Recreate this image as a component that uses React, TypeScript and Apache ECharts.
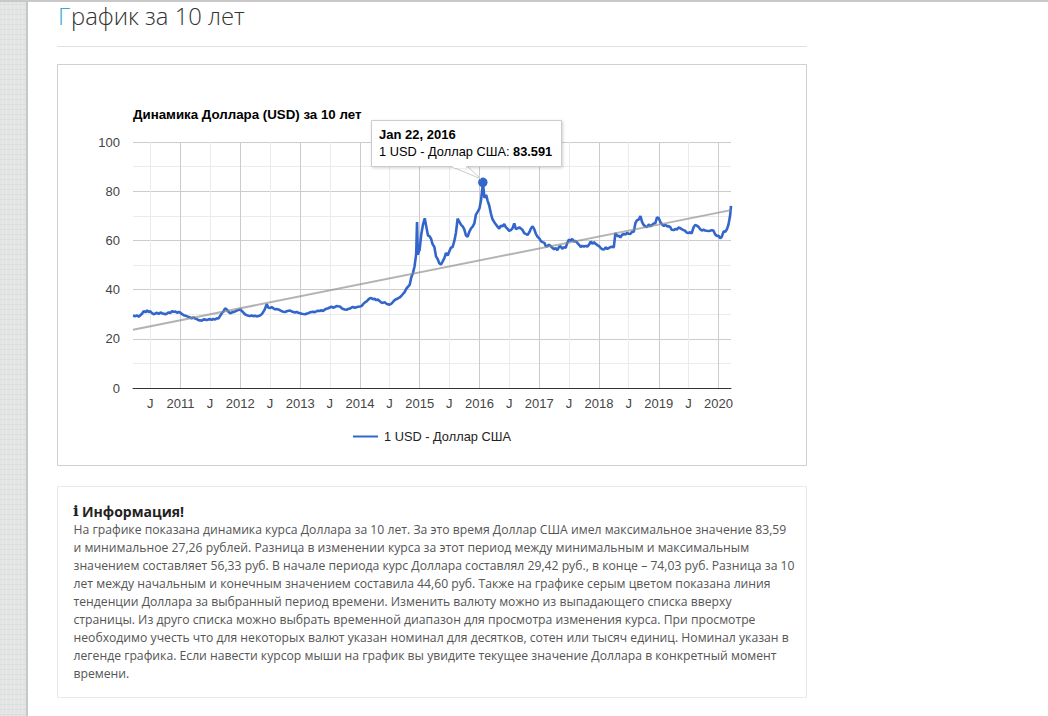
import React, { useEffect, useRef } from "react";
import * as echarts from "echarts";

const seriesName = "1 USD - Доллар США";
const chartTitle = "Динамика Доллара (USD) за 10 лет";
const pageTitleFirst = "Г";
const pageTitleRest = "рафик за 10 лет";
const infoTitle = "Информация!";
const infoLines = [
  "На графике показана динамика курса Доллара за 10 лет. За это время Доллар США имел максимальное значение 83,59",
  "и минимальное 27,26 рублей. Разница в изменении курса за этот период между минимальным и максимальным",
  "значением составляет 56,33 руб. В начале периода курс Доллара составлял 29,42 руб., в конце – 74,03 руб. Разница за 10",
  "лет между начальным и конечным значением составила 44,60 руб. Также на графике серым цветом показана линия",
  "тенденции Доллара за выбранный период времени. Изменить валюту можно из выпадающего списка вверху",
  "страницы. Из друго списка можно выбрать временной диапазон для просмотра изменения курса. При просмотре",
  "необходимо учесть что для некоторых валют указан номинал для десятков, сотен или тысяч единиц. Номинал указан в",
  "легенде графика. Если навести курсор мыши на график вы увидите текущее значение Доллара в конкретный момент",
  "времени.",
];

const axisYears = [2011, 2012, 2013, 2014, 2015, 2016, 2017, 2018, 2019, 2020];
const midYears = [2010, 2011, 2012, 2013, 2014, 2015, 2016, 2017, 2018, 2019];

// Readings on the 1st, 11th and 21st of each month
const values2010 = [29.4, 29.2, 29.5, 29.0, 29.6, 30.2, 31.2, 30.8, 31.5, 30.9, 31.2, 30.4, 30.0, 30.3, 30.6, 30.1, 30.7, 30.4, 30.2, 30.0, 30.3, 30.7, 30.5, 31.2, 31.0, 31.1, 30.6, 30.9];
const values2011 = [30.6, 30.0, 29.6, 29.4, 29.1, 28.9, 28.7, 28.3, 28.7, 28.2, 28.0, 27.6, 27.5, 27.3, 27.9, 27.8, 27.6, 27.9, 28.0, 27.7, 28.1, 27.8, 28.4, 28.2, 29.4, 30.4, 31.2, 32.4, 31.9, 31.0, 30.4, 30.7, 30.9, 31.1, 31.5, 31.7];
const values2012 = [31.9, 31.3, 30.6, 29.9, 29.6, 29.4, 29.3, 29.5, 29.2, 29.4, 29.1, 29.3, 29.5, 30.0, 30.9, 32.3, 34.1, 32.6, 32.5, 32.9, 32.4, 32.0, 32.1, 31.9, 31.6, 31.2, 31.0, 30.9, 31.2, 31.4, 31.5, 31.1, 30.9, 30.7, 30.9, 30.6];
const values2013 = [30.4, 30.2, 30.1, 30.0, 30.3, 30.4, 30.7, 30.9, 31.0, 30.8, 31.2, 31.4, 31.3, 31.6, 31.3, 31.9, 32.2, 32.4, 32.7, 33.1, 32.6, 32.9, 33.3, 33.2, 33.1, 32.5, 32.1, 31.9, 31.8, 32.1, 32.3, 32.7, 33.0, 32.6, 32.8, 33.0];
const values2014 = [33.1, 33.3, 34.1, 34.8, 35.2, 35.9, 36.4, 36.6, 36.1, 36.3, 35.7, 36.0, 35.4, 34.8, 34.6, 34.9, 34.3, 34.0, 33.9, 34.2, 34.9, 35.7, 36.1, 36.4, 36.8, 37.4, 38.2, 39.0, 40.3, 41.1, 41.9, 45.0, 46.7, 49.5, 54.5, 54.2];
const values2015 = [56.3, 62.5, 66.3, 69.0, 65.5, 62.0, 61.8, 60.8, 58.5, 57.3, 53.5, 52.4, 50.7, 50.2, 51.4, 52.8, 54.9, 53.9, 55.5, 57.0, 57.3, 59.8, 63.2, 68.8, 67.5, 66.3, 65.7, 64.5, 62.0, 61.5, 63.6, 64.9, 65.6, 66.9, 70.5, 71.6];
const values2016 = [72.9, 76.3, 82.5, 77.3, 78.5, 76.0, 74.2, 71.0, 68.6, 67.4, 66.5, 65.6, 64.8, 66.0, 65.7, 66.6, 65.3, 64.7, 63.9, 64.2, 64.9, 66.9, 64.6, 64.9, 65.3, 64.8, 64.2, 63.0, 62.6, 62.2, 63.3, 64.8, 65.7, 64.6, 62.7, 61.5];
const values2017 = [60.8, 59.7, 59.3, 59.0, 57.5, 57.8, 58.2, 57.8, 57.0, 56.4, 56.9, 56.0, 57.3, 57.6, 56.6, 57.2, 57.0, 59.0, 60.3, 59.8, 60.6, 59.6, 59.8, 59.0, 58.2, 57.3, 57.8, 57.5, 57.8, 57.5, 58.3, 59.5, 58.6, 59.3, 58.6, 58.1];
const values2018 = [57.7, 56.9, 56.4, 56.3, 57.2, 56.5, 56.9, 57.3, 57.4, 57.2, 63.0, 61.8, 61.9, 61.2, 62.2, 62.6, 62.4, 63.0, 62.7, 62.6, 63.4, 63.5, 67.0, 68.2, 68.5, 69.9, 67.4, 66.2, 65.7, 65.4, 66.5, 65.7, 66.3, 66.9, 67.0, 69.4];
const values2019 = [69.0, 67.4, 66.5, 65.9, 66.3, 65.7, 65.8, 65.5, 64.3, 64.2, 64.6, 64.4, 65.2, 65.0, 64.6, 64.2, 63.9, 63.1, 63.0, 63.3, 62.9, 65.3, 66.3, 66.0, 65.5, 64.5, 64.0, 64.4, 64.0, 63.9, 63.8, 63.9, 64.2, 63.9, 62.5, 61.8];
const values2020 = [61.9, 60.9, 61.5, 63.7, 63.5, 64.5, 66.3, 69.8];

const spikeDates = ["2010-03-17", "2014-12-16", "2016-01-22", "2020-03-17"];
const spikeValues = [29.42, 67.5, 83.591, 74.03];
const trendDates = ["2010-03-17", "2020-03-17"];
const trendValues = [23.7, 72.3];
const peakDate = "2016-01-22";
const peakValue = 83.591;

const utc = (s: string) => Date.parse(s + "T00:00:00Z");

function buildSeries(): [number, number][] {
  const all = [
    ...values2010, ...values2011, ...values2012, ...values2013, ...values2014, ...values2015,
    ...values2016, ...values2017, ...values2018, ...values2019, ...values2020,
  ];
  const days = [1, 11, 21];
  const out: [number, number][] = [];
  // first reading is 21 March 2010: slot index 2 of month index 2
  let slot = 2 * 3 + 2;
  for (const v of all) {
    const month = Math.floor(slot / 3);
    out.push([Date.UTC(2010, month, days[slot % 3]), v]);
    slot++;
  }
  spikeDates.forEach((d, i) => out.push([utc(d), spikeValues[i]]));
  return out.sort((a, b) => a[0] - b[0]);
}

const sans = "'Liberation Sans', Arial, sans-serif";
const open = "'Open Sans', sans-serif";

function stripTexture() {
  const items: any[] = [];
  for (let x = 2; x < 26; x += 4) {
    items.push({ type: "line", z: -9, silent: true, shape: { x1: x + 0.5, y1: 2, x2: x + 0.5, y2: 716 }, style: { stroke: "rgba(255,255,255,0.2)", lineWidth: 1 } });
  }
  for (let y = 4; y < 716; y += 5) {
    items.push({ type: "line", z: -9, silent: true, shape: { x1: 0, y1: y + 0.5, x2: 26, y2: y + 0.5 }, style: { stroke: "rgba(150,155,152,0.10)", lineWidth: 1 } });
  }
  return items;
}

export default function App() {
  const ref = useRef<HTMLDivElement>(null);
  useEffect(() => {
    const chart = echarts.init(ref.current!, null, { renderer: "svg" });
    const xMin = utc(trendDates[0]);
    const xMax = utc(trendDates[1]);
    const commonX = { type: "value", min: xMin, max: xMax, position: "bottom", gridIndex: 0 };
    chart.setOption({
      animation: false,
      useUTC: true,
      backgroundColor: "#ffffff",
      grid: { left: 133, top: 142, width: 598, height: 246, containLabel: false },
      title: {
        text: chartTitle,
        left: 133,
        top: 108,
        padding: 0,
        textStyle: { fontFamily: sans, fontSize: 13.3, fontWeight: "bold", color: "#000" },
      },
      legend: {
        data: [{ name: seriesName, icon: "rect" }],
        left: 353,
        top: 430,
        padding: 0,
        itemWidth: 25,
        itemHeight: 2,
        itemGap: 0,
        textStyle: { fontFamily: sans, fontSize: 12.8, color: "#222", padding: [0, 0, 0, 1] },
      },
      xAxis: [
        {
          ...commonX,
          axisLine: { show: false },
          axisTick: { show: false, customValues: midYears.map((y) => Date.UTC(y, 6, 1)) },
          axisLabel: {
            show: true,
            customValues: midYears.map((y) => Date.UTC(y, 6, 1)),
            formatter: () => "J",
            fontFamily: sans,
            fontSize: 13,
            color: "#444",
            margin: 9,
            hideOverlap: false,
          },
          splitLine: { show: true, lineStyle: { color: "#ebebeb", width: 1 } },
          z: 1,
        },
        {
          ...commonX,
          axisLine: { show: true, onZero: false, lineStyle: { color: "#333", width: 1 } },
          axisTick: { show: false, customValues: axisYears.map((y) => Date.UTC(y, 0, 1)) },
          axisLabel: {
            show: true,
            customValues: axisYears.map((y) => Date.UTC(y, 0, 1)),
            formatter: (v: number) => String(new Date(v).getUTCFullYear()),
            fontFamily: sans,
            fontSize: 13,
            color: "#444",
            margin: 9,
            hideOverlap: false,
          },
          splitLine: { show: true, lineStyle: { color: "#cccccc", width: 1 } },
          z: 2,
        },
      ],
      yAxis: {
        type: "value",
        min: 0,
        max: 100,
        interval: 20,
        axisLine: { show: false },
        axisTick: { show: false },
        minorTick: { show: false, splitNumber: 2 },
        minorSplitLine: { show: true, lineStyle: { color: "#ebebeb", width: 1 } },
        splitLine: { show: true, lineStyle: { color: "#cccccc", width: 1 } },
        axisLabel: { fontFamily: sans, fontSize: 13, color: "#444", margin: 13 },
      },
      series: [
        {
          name: seriesName,
          type: "line",
          xAxisIndex: 0,
          data: buildSeries(),
          showSymbol: false,
          symbol: "none",
          lineStyle: { color: "#3366cc", width: 2.6 },
          itemStyle: { color: "#3366cc" },
          z: 3,
        },
        {
          name: "trend",
          type: "line",
          xAxisIndex: 0,
          data: trendDates.map((d, i) => [utc(d), trendValues[i]]),
          showSymbol: false,
          symbol: "none",
          lineStyle: { color: "#8a8a8a", width: 2, opacity: 0.65 },
          z: 4,
        },
        {
          name: "peak",
          type: "scatter",
          xAxisIndex: 0,
          data: [[utc(peakDate), peakValue]],
          symbolSize: 9.5,
          itemStyle: { color: "#3366cc", opacity: 1 },
          z: 5,
        },
      ],
      graphic: [
        // page chrome
        { type: "rect", z: -10, silent: true, shape: { x: 0, y: 0, width: 26, height: 716 }, style: { fill: "#e3e5e4" } },
        { type: "rect", z: -10, silent: true, shape: { x: 26, y: 0, width: 2, height: 716 }, style: { fill: "#c6c8c8" } },
        ...stripTexture(),
        { type: "rect", z: -8, silent: true, shape: { x: 0, y: 0, width: 1048, height: 2 }, style: { fill: "#c8c8c8" } },
        {
          type: "text",
          z: 10,
          x: 58,
          y: 16,
          style: { text: pageTitleFirst, fontFamily: open, fontSize: 23.8, fontWeight: 300, fill: "#3aa6dd", verticalAlign: "middle" },
        },
        {
          type: "text",
          z: 10,
          x: 71,
          y: 16,
          style: { text: pageTitleRest, fontFamily: open, fontSize: 23.8, fontWeight: 300, fill: "#333", verticalAlign: "middle" },
        },
        { type: "line", z: -8, silent: true, shape: { x1: 57, y1: 46.5, x2: 807, y2: 46.5 }, style: { stroke: "#e0e0e0", lineWidth: 1 } },
        { type: "rect", z: -8, silent: true, shape: { x: 57.5, y: 64.5, width: 749, height: 401 }, style: { fill: "#fff", stroke: "#d0d0d0", lineWidth: 1 } },
        { type: "rect", z: -8, silent: true, shape: { x: 57.5, y: 486.5, width: 749, height: 211 }, style: { fill: "#fff", stroke: "#e8e8e8", lineWidth: 1 } },
        // info block
        {
          type: "text",
          z: 10,
          x: 73,
          y: 511,
          style: { text: "i", fontFamily: "'DejaVu Serif', serif", fontWeight: "bold", fontSize: 15, fill: "#222", verticalAlign: "middle" },
        },
        {
          type: "text",
          z: 10,
          x: 82,
          y: 511,
          style: { text: infoTitle, fontFamily: open, fontWeight: 700, fontSize: 14, fill: "#222", verticalAlign: "middle" },
        },
        ...infoLines.map((line, i) => ({
          type: "text",
          z: 10,
          x: 73.5,
          y: 529 + i * 18,
          style: { text: line, fontFamily: open, fontSize: 12.2, fill: "#555", verticalAlign: "middle" },
        })),
        // fixed tooltip
        {
          type: "polygon",
          z: 20,
          silent: true,
          shape: { points: [[450, 165], [467, 165], [481, 179]] },
          style: { fill: "#fff", shadowBlur: 0 },
        },
        {
          type: "polyline",
          z: 20,
          silent: true,
          shape: { points: [[450, 166], [481, 179], [467, 166]] },
          style: { stroke: "#cccccc", fill: "none", lineWidth: 1 },
        },
        {
          type: "rect",
          z: 21,
          silent: true,
          shape: { x: 371.5, y: 120.5, width: 190, height: 46 },
          style: { fill: "#fff", stroke: "#cccccc", lineWidth: 1, shadowBlur: 3, shadowColor: "rgba(0,0,0,0.18)", shadowOffsetX: 1, shadowOffsetY: 1 },
        },
        {
          type: "polygon",
          z: 22,
          silent: true,
          shape: { points: [[451, 165], [466, 165], [466, 168], [454, 168]] },
          style: { fill: "#fff" },
        },
        {
          type: "text",
          z: 23,
          x: 379,
          y: 134,
          style: { text: "Jan 22, 2016", fontFamily: sans, fontSize: 13, fontWeight: "bold", fill: "#000", verticalAlign: "middle" },
        },
        {
          type: "text",
          z: 23,
          x: 379,
          y: 151,
          style: {
            text: `{a|${seriesName}: }{b|${peakValue}}`,
            verticalAlign: "middle",
            rich: {
              a: { fontFamily: sans, fontSize: 12.8, fontWeight: "normal", fill: "#000", color: "#000" },
              b: { fontFamily: sans, fontSize: 12.8, fontWeight: "bold", fill: "#000", color: "#000" },
            },
          },
        },
      ],
    });
    return () => chart.dispose();
  }, []);
  return <div ref={ref} style={{ position: "fixed", left: 0, top: 0, width: 1048, height: 716 }} />;
}
